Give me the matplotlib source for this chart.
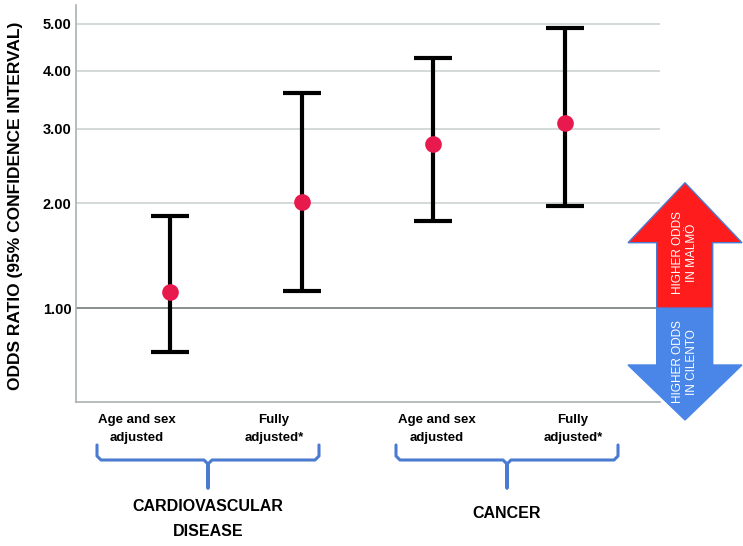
"""
Odds ratios (95% CI), Malmö vs Cilento, for CVD and cancer.
Output: out.png
"""

import numpy as np
import matplotlib.pyplot as plt
from matplotlib.patches import Polygon
from matplotlib.lines import Line2D

# data
models = ["Age and sex\nadjusted", "Fully\nadjusted*", "Age and sex\nadjusted", "Fully\nadjusted*"]
groups = ["CARDIOVASCULAR\nDISEASE", "CANCER"]
odds_ratio = [1.13, 2.02, 2.77, 3.09]
ci_low = [0.69, 1.14, 1.80, 1.97]
ci_high = [1.86, 3.59, 4.25, 4.90]
yticks = [1.0, 2.0, 3.0, 4.0, 5.0]

W, H = 743, 546
FONT = ["Liberation Sans", "DejaVu Sans"]
plt.rcParams["font.family"] = FONT


def px(x, y):
    # pixel position (from top-left) -> figure fraction
    return x / W, 1 - y / H


fig = plt.figure(figsize=(W / 100, H / 100), dpi=100)
left, top = px(75.7, 5)
right, bottom = px(660, 402.3)
ax = fig.add_axes([left, bottom, right - left, top - bottom])

# the axis is log(OR + 1)
ax.set_yscale("function", functions=(lambda v: np.log(np.maximum(v, 1e-9) + 1),
                                     lambda u: np.exp(u) - 1))
ax.set_ylim(0.391, 5.45)
ax.set_xlim(0.285, 4.72)

x = np.arange(1, len(odds_ratio) + 1)
orr = np.array(odds_ratio)
yerr = [orr - np.array(ci_low), np.array(ci_high) - orr]

for v in yticks:
    if v == 1.0:
        ax.axhline(v, color="#7e8787", linewidth=1.3, zorder=1)
    else:
        ax.axhline(v, color="#c8d0d0", linewidth=1.1, zorder=1)

ax.errorbar(x, orr, yerr=yerr, fmt="none", ecolor="black", elinewidth=3,
            capsize=14, capthick=3, zorder=3)
ax.plot(x, orr, "o", color="#e8194d", markersize=12, markeredgewidth=0, zorder=4)

ax.set_yticks(yticks)
ax.set_yticklabels([f"{v:.2f}" for v in yticks], fontsize=10.5, fontweight="bold")
ax.yaxis.set_minor_locator(plt.NullLocator())
ax.tick_params(axis="y", length=0, pad=3)
ax.set_xticks([])
for s in ["top", "right"]:
    ax.spines[s].set_visible(False)
for s in ["left", "bottom"]:
    ax.spines[s].set_color("#a9b2b2")
    ax.spines[s].set_linewidth(1.2)

fig.text(*px(16, 206), "ODDS RATIO (95% CONFIDENCE INTERVAL)", rotation=90,
         ha="center", va="center", fontsize=12.5, fontweight="bold")

# model labels under the axis
label_x = [137, 274, 437, 573]
for lx, lab in zip(label_x, models):
    fig.text(*px(lx, 429), lab, ha="center", va="center", fontsize=9.5,
             fontweight="bold", linespacing=1.75)

# braces and group labels
brace_col = "#4a7bd0"
for (x0, x1), grp, ty in zip([(97, 319), (396, 618)], groups, [519, 513]):
    xc = (x0 + x1) / 2
    pts = [(x0, 445), (x0, 456), (x0 + 4, 460), (xc - 4, 460), (xc, 464),
           (xc, 488), (xc, 464), (xc + 4, 460), (x1 - 4, 460), (x1, 456), (x1, 445)]
    xs, ys = zip(*[px(a, b) for a, b in pts])
    fig.add_artist(Line2D(xs, ys, color=brace_col, linewidth=2.2,
                          solid_joinstyle="round", solid_capstyle="round"))
    fig.text(*px(xc, ty), grp, ha="center", va="center", fontsize=11.5,
             fontweight="bold", linespacing=1.8)

# double arrow on the right
red = [(685, 182.7), (742, 242.7), (712.7, 242.7), (712.7, 308.3),
       (656.7, 308.3), (656.7, 242.7), (628, 242.7)]
blue = [(656.7, 308.3), (712.7, 308.3), (712.7, 365), (742, 365),
        (685, 420), (628, 365), (656.7, 365)]
fig.add_artist(Polygon([px(a, b) for a, b in red], closed=True,
                       facecolor="#ff1c1c", edgecolor="#4a7bd0", linewidth=1))
fig.add_artist(Polygon([px(a, b) for a, b in blue], closed=True,
                       facecolor="#4a86e8", edgecolor="#4a86e8", linewidth=1))
fig.text(*px(685, 253), "HIGHER ODDS\nIN MALMÖ", rotation=90, ha="center",
         va="center", color="white", fontsize=8.5, linespacing=1.3)
fig.text(*px(685, 362), "HIGHER ODDS\nIN CILENTO", rotation=90, ha="center",
         va="center", color="white", fontsize=8.5, linespacing=1.3)

fig.savefig("out.png", dpi=100)
